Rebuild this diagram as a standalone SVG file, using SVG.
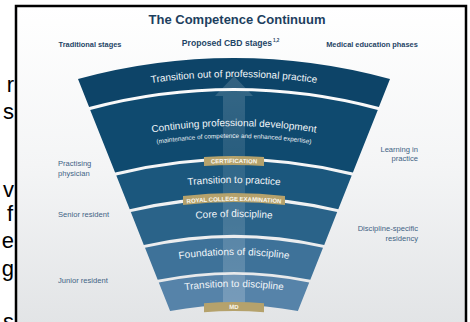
<svg xmlns="http://www.w3.org/2000/svg" width="470" height="322" viewBox="0 0 470 322">
<style>
text{font-family:"Liberation Sans",Arial,sans-serif}
.frag{font-size:22px;fill:#000}
.title{font-size:13px;font-weight:bold;fill:#1d3f5e}
.sub{font-size:7.4px;font-weight:bold;fill:#1f4566}
.side{font-size:7.6px;fill:#3f6385}
.band{font-size:10px;fill:#f2f6f9}
.small{font-size:6.4px;fill:#e8eef3}
.tab{fill:#b5a26c}
.tabt{font-size:6px;font-weight:bold;fill:#fbf8ef}
</style>
<defs>
<linearGradient id="bg" x1="0" y1="0" x2="0" y2="1">
<stop offset="0" stop-color="#ffffff"/>
<stop offset="0.5" stop-color="#f4f5f6"/>
<stop offset="1" stop-color="#e2e4e6"/>
</linearGradient>
<linearGradient id="arr" x1="0" y1="0" x2="0" y2="1">
<stop offset="0" stop-color="#ffffff" stop-opacity="0.16"/>
<stop offset="0.4" stop-color="#ffffff" stop-opacity="0.1"/>
<stop offset="1" stop-color="#ffffff" stop-opacity="0.2"/>
</linearGradient>
<clipPath id="fan">
<path d="M78,79 A590,590 0 0 1 390,79 L378.9,107.1 A560,560 0 0 0 89.1,107.1 Z"/>
<path d="M90.2,109.9 A557,557 0 0 1 377.8,109.9 L352.9,172.6 A490,490 0 0 0 115.1,172.6 Z"/>
<path d="M116.3,175.4 A487,487 0 0 1 351.7,175.4 L338.3,209.2 A451,451 0 0 0 129.7,209.2 Z"/>
<path d="M130.8,212.1 A448,448 0 0 1 337.2,212.1 L324.2,244.9 A413,413 0 0 0 143.8,244.9 Z"/>
<path d="M145,247.8 A410,410 0 0 1 323,247.8 L310.3,279.8 A376,376 0 0 0 157.7,279.8 Z"/>
<path d="M158.8,282.6 A373,373 0 0 1 309.2,282.6 L297.9,311 A343,343 0 0 0 170.1,311 Z"/>
</clipPath>
<path id="p1" d="M84,97.1 A571,571 0 0 1 384,97.1"/>
<path id="p2" d="M84,148.1 A522,522 0 0 1 384,148.1"/>
<path id="p2b" d="M84,160.5 A510,510 0 0 1 384,160.5"/>
<path id="p3" d="M84,207.9 A465,465 0 0 1 384,207.9"/>
<path id="p4" d="M84,243.9 A431,431 0 0 1 384,243.9"/>
<path id="p5" d="M84,284.8 A393,393 0 0 1 384,284.8"/>
<path id="p6" d="M84,319.6 A361,361 0 0 1 384,319.6"/>
<path id="pc" d="M84,186.8 A485,485 0 0 1 384,186.8"/>
<path id="pr" d="M84,226.9 A447,447 0 0 1 384,226.9"/>
<path id="pm" d="M84,344 A339,339 0 0 1 384,344"/>
</defs>

<rect x="0" y="0" width="470" height="322" fill="#ffffff"/>
<g id="slide-fragment">
<text class="frag" x="14" y="92" text-anchor="end">r</text>
<text class="frag" x="14" y="119" text-anchor="end">s</text>
<text class="frag" x="14" y="197" text-anchor="end">v</text>
<text class="frag" x="13" y="221" text-anchor="end">f</text>
<text class="frag" x="14" y="248" text-anchor="end">e</text>
<text class="frag" x="14" y="276" text-anchor="end">g</text>
<text class="frag" x="14" y="329" text-anchor="end">s</text>
</g>
<rect x="16" y="6" width="450" height="318" fill="url(#bg)" stroke="#000" stroke-width="2.5"/>

<g id="headings">
<text class="title" x="237" y="24" text-anchor="middle">The Competence Continuum</text>
<text class="sub" x="90" y="47" text-anchor="middle">Traditional stages</text>
<text class="sub" x="227" y="46" text-anchor="middle" style="font-size:8.6px">Proposed CBD stages</text>
<text class="sub" x="273" y="42" style="font-size:4.6px">1,2</text>
<text class="sub" x="372" y="47" text-anchor="middle">Medical education phases</text>
</g>

<g id="band-transition-out">
<path fill="#0d4468" d="M78,79 A590,590 0 0 1 390,79 L378.9,107.1 A560,560 0 0 0 89.1,107.1 Z"/>
</g>
<g id="band-cpd">
<path fill="#0f4a6f" d="M90.2,109.9 A557,557 0 0 1 377.8,109.9 L352.9,172.6 A490,490 0 0 0 115.1,172.6 Z"/>
</g>
<g id="band-transition-practice">
<path fill="#1b577d" d="M116.3,175.4 A487,487 0 0 1 351.7,175.4 L338.3,209.2 A451,451 0 0 0 129.7,209.2 Z"/>
</g>
<g id="band-core">
<path fill="#2a6389" d="M130.8,212.1 A448,448 0 0 1 337.2,212.1 L324.2,244.9 A413,413 0 0 0 143.8,244.9 Z"/>
</g>
<g id="band-foundations">
<path fill="#3e7299" d="M145,247.8 A410,410 0 0 1 323,247.8 L310.3,279.8 A376,376 0 0 0 157.7,279.8 Z"/>
</g>
<g id="band-transition-discipline">
<path fill="#5683a9" d="M158.8,282.6 A373,373 0 0 1 309.2,282.6 L297.9,311 A343,343 0 0 0 170.1,311 Z"/>
</g>

<g id="connectors">
<polygon clip-path="url(#fan)" fill="url(#arr)" points="234,76 253,96 245,96 245,314 223,314 223,96 215,96"/>
</g>

<g id="band-texts">
<text class="band"><textPath href="#p1" startOffset="50%" text-anchor="middle">Transition out of professional practice</textPath></text>
<text class="band"><textPath href="#p2" startOffset="50%" text-anchor="middle">Continuing professional development</textPath></text>
<text class="small"><textPath href="#p2b" startOffset="50%" text-anchor="middle">(maintenance of competence and enhanced expertise)</textPath></text>
<text class="band"><textPath href="#p3" startOffset="50%" text-anchor="middle">Transition to practice</textPath></text>
<text class="band"><textPath href="#p4" startOffset="50%" text-anchor="middle">Core of discipline</textPath></text>
<text class="band"><textPath href="#p5" startOffset="50%" text-anchor="middle">Foundations of discipline</textPath></text>
<text class="band"><textPath href="#p6" startOffset="50%" text-anchor="middle">Transition to discipline</textPath></text>
</g>

<g id="tab-certification">
<path class="tab" d="M204,156.9 A492,492 0 0 1 264,156.9 L264,165.9 A483,483 0 0 0 204,165.9 Z"/>
<text class="tabt"><textPath href="#pc" startOffset="50%" text-anchor="middle">CERTIFICATION</textPath></text>
</g>
<g id="tab-royal-college">
<path class="tab" d="M183,195.9 A455,455 0 0 1 285,195.9 L285,204.9 A446,446 0 0 0 183,204.9 Z"/>
<text class="tabt"><textPath href="#pr" startOffset="50%" text-anchor="middle">ROYAL COLLEGE EXAMINATION</textPath></text>
</g>
<g id="tab-md">
<path class="tab" d="M204,303.3 A346,346 0 0 1 264,303.3 L264,312.3 A337,337 0 0 0 204,312.3 Z"/>
<text class="tabt"><textPath href="#pm" startOffset="50%" text-anchor="middle">MD</textPath></text>
</g>

<g id="traditional-labels">
<text class="side" x="58" y="166">Practising</text>
<text class="side" x="58" y="175.5">physician</text>
<text class="side" x="58" y="217">Senior resident</text>
<text class="side" x="58" y="283">Junior resident</text>
</g>
<g id="phase-labels">
<text class="side" x="418" y="151.5" text-anchor="end">Learning in</text>
<text class="side" x="418" y="161" text-anchor="end">practice</text>
<text class="side" x="418" y="231" text-anchor="end">Discipline-specific</text>
<text class="side" x="418" y="241" text-anchor="end">residency</text>
</g>
</svg>
